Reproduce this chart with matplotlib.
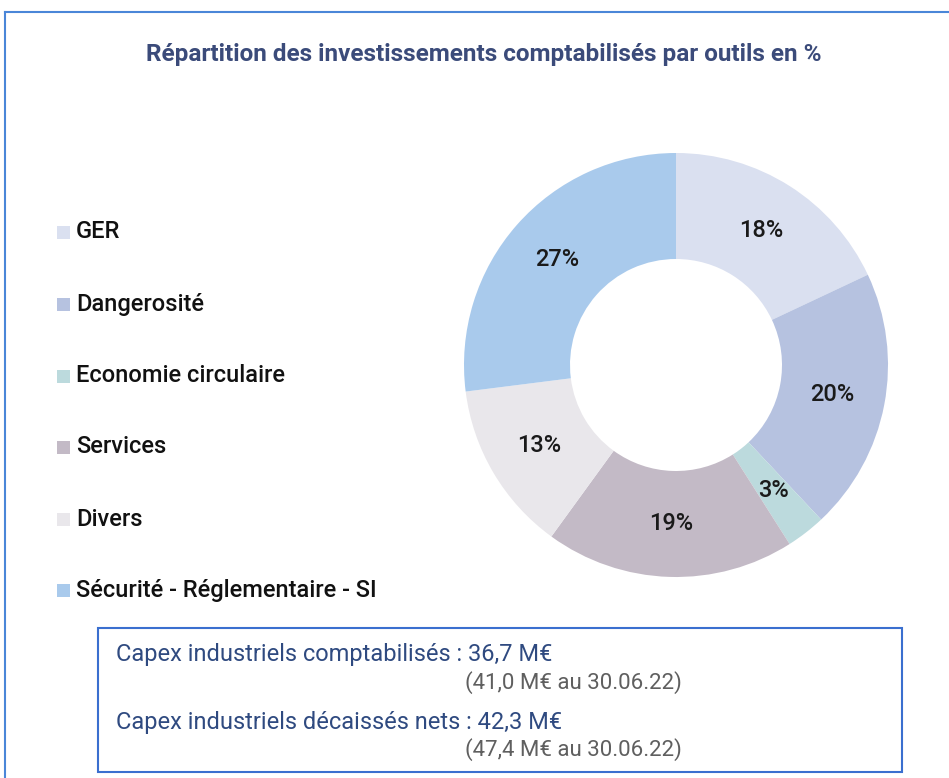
import matplotlib.pyplot as plt
from matplotlib.patches import Rectangle
from matplotlib.lines import Line2D

# data
categories = ["GER", "Dangerosité", "Economie circulaire", "Services",
              "Divers", "Sécurité - Réglementaire - SI"]
shares = [18, 20, 3, 19, 13, 27]
colors = ["#DAE0F0", "#B6C2E0", "#BCDADD", "#C3BAC6", "#E9E7EB", "#A9CAEC"]

title = "Répartition des investissements comptabilisés par outils en %"
box_lines = [("Capex industriels comptabilisés : 36,7 M€", "(41,0 M€ au 30.06.22)"),
             ("Capex industriels décaissés nets : 42,3 M€", "(47,4 M€ au 30.06.22)")]

W, H = 949, 778
plt.rcParams['font.family'] = ['Roboto', 'DejaVu Sans']
fig = plt.figure(figsize=(W / 100, H / 100), dpi=100)


def fx(px):
    return px / W


def fy(py):
    return 1 - py / H


# outer frame (top and left edges visible)
fig.add_artist(Line2D([fx(5), 1], [fy(12), fy(12)], color="#4A86D8", lw=1.5))
fig.add_artist(Line2D([fx(5), fx(5)], [fy(12), 0], color="#4A86D8", lw=1.5))

fig.text(fx(484), fy(55), title, ha="center", va="center",
         fontsize=17.5, fontweight="bold", color="#3B4B7A")

# donut
cx, cy, r = 676, 365, 212
ax = fig.add_axes([fx(cx - r), fy(cy + r), 2 * r / W, 2 * r / H])
wedges, texts, autotexts = ax.pie(
    shares, colors=colors, startangle=90, counterclock=False,
    wedgeprops=dict(width=0.5, edgecolor="none"),
    autopct="%d%%", pctdistance=0.75,
    textprops=dict(fontsize=17, fontweight="medium", color="#1A1A1A"))
ax.set_xlim(-1, 1)
ax.set_ylim(-1, 1)
ax.set_aspect("equal")

# legend on the left
leg_y = [232, 304, 376, 447, 519, 590]
for name, col, y in zip(categories, colors, leg_y):
    fig.add_artist(Rectangle((fx(57), fy(y + 7)), 13 / W, 13 / H,
                             facecolor=col, edgecolor="none"))
    fig.text(fx(76), fy(y), name, ha="left", va="center",
             fontsize=17, fontweight="medium", color="#111111")

# capex box
fig.add_artist(Rectangle((fx(98), fy(772)), 804 / W, 144 / H,
                         facecolor="none", edgecolor="#3A6FCF", lw=1.5))
for (main, sub), y in zip(box_lines, [655, 722]):
    fig.text(fx(116), fy(y), main, ha="left", va="center",
             fontsize=17, color="#2F4A80")
    fig.text(fx(465), fy(y + 28), sub, ha="left", va="center",
             fontsize=16, color="#5F5F5F")

plt.savefig("out.png", dpi=100)
